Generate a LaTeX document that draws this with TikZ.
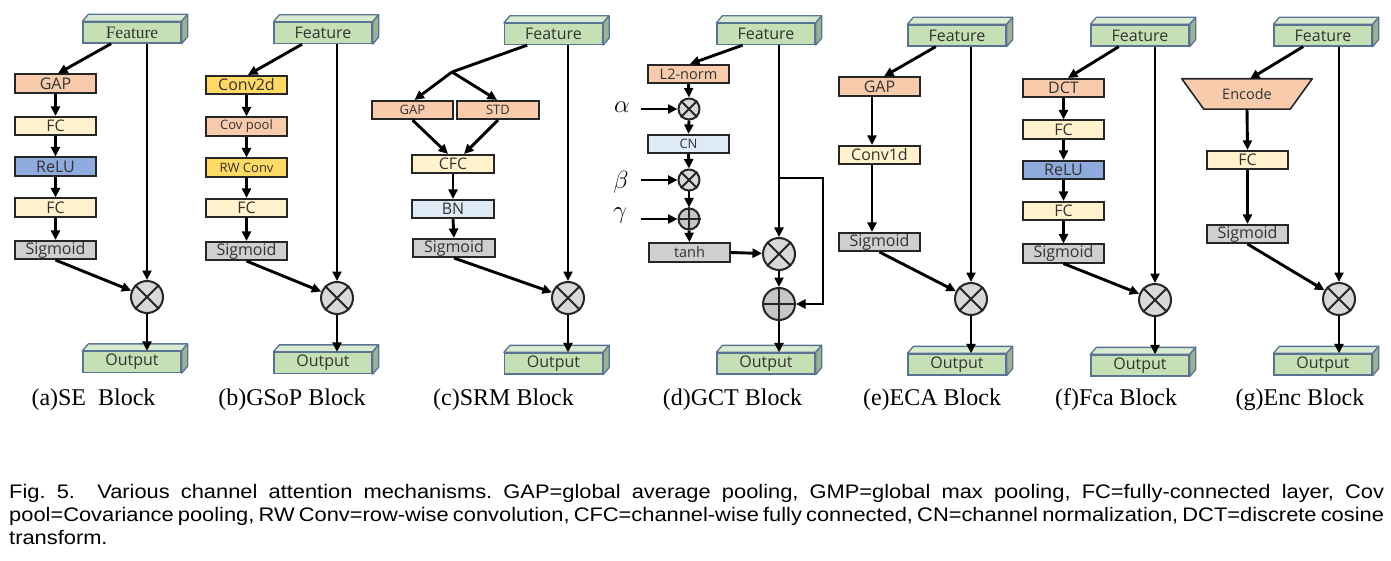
\documentclass[tikz,border=0pt]{standalone}
\usepackage{fontspec}
\setmainfont{Open Sans}
\newfontfamily\ttlfont{Liberation Serif}
\newfontfamily\capfont[FakeStretch=1.115]{Liberation Sans}
\usetikzlibrary{arrows.meta,calc}

\definecolor{fgreen}{HTML}{C5E0B4}
\definecolor{fgreentop}{HTML}{D8EACF}
\definecolor{fgreenside}{HTML}{9AB396}
\definecolor{cubeedge}{HTML}{5B7393}
\definecolor{salmon}{HTML}{F8CBAD}
\definecolor{lyellow}{HTML}{FFF2CC}
\definecolor{gold}{HTML}{FFD966}
\definecolor{relublue}{HTML}{8FAADC}
\definecolor{lblue}{HTML}{DEEBF7}
\definecolor{lgray}{HTML}{D0CECE}
\definecolor{opgray}{HTML}{D9D9D9}
\definecolor{opgraytwo}{HTML}{C6C6C6}
\definecolor{boxedge}{HTML}{262626}
\definecolor{txtgray}{HTML}{333333}

\tikzset{
  blk/.style={draw=boxedge, line width=1.6pt, minimum width=81pt, minimum height=18.5pt,
    inner sep=0pt, font=\fontsize{16}{17}\selectfont, text=txtgray},
  smalltxt/.style={font=\fontsize{13}{14}\selectfont},
  midtxt/.style={font=\fontsize{14.5}{15}\selectfont},
  cubefront/.style={draw=cubeedge, line width=1.3pt, fill=fgreen, minimum width=98pt,
    minimum height=21pt, inner sep=0pt, font=\fontsize{16}{17}\selectfont, text=txtgray},
  opnode/.style={circle, draw=boxedge, line width=2pt, fill=opgray, minimum size=32pt, inner sep=0pt},
  opplus/.style={opnode, fill=opgraytwo},
  opline/.style={line width=2pt, draw=boxedge},
  arr/.style={-{Triangle[length=9.5pt,width=9pt]}, line width=2.9pt},
  ln/.style={line width=2.9pt},
  ttl/.style={anchor=base, inner sep=0pt, font=\ttlfont\fontsize{24}{26}\selectfont},
  greek/.style={inner sep=0pt, font=\fontsize{27}{28}\selectfont},
  capline/.style={anchor=base west, inner sep=0pt, font=\capfont\fontsize{19.6}{22}\selectfont},
}

\newcommand\mycube[4]{%
  \node[cubefront] (#1) at (#2,#3) {#4};
  \filldraw[fill=fgreentop, draw=cubeedge, line width=1.3pt, line join=round]
    (#1.north west) -- ++(6,-7) -- ($(#1.north east)+(6,-7)$) -- (#1.north east) -- cycle;
  \filldraw[fill=fgreenside, draw=cubeedge, line width=1.3pt, line join=round]
    (#1.north east) -- ++(6,-7) -- ($(#1.south east)+(6,-7)$) -- (#1.south east) -- cycle;
}
\newcommand\optimes[4]{%
  \node[opnode, minimum size=#4] (#1) at (#2,#3) {};
  \draw[opline] (#1.45) -- (#1.225) (#1.135) -- (#1.315);
}
\newcommand\opplusnode[4]{%
  \node[opplus, minimum size=#4] (#1) at (#2,#3) {};
  \draw[opline] (#1.north) -- (#1.south) (#1.east) -- (#1.west);
}

\begin{document}
\begin{tikzpicture}[x=1pt, y=-1pt]
\useasboundingbox (0,0) rectangle (1391,561);
\fill[white] (0,0) rectangle (1391,561);

% ---------------- (a) SE ----------------
\mycube{fa}{132}{32.5}{{\ttlfont\fontsize{17.5}{18}\selectfont Feature}}
\node[blk, fill=salmon] (a1) at (55.5,83.5) {GAP};
\node[blk, fill=lyellow] (a2) at (55.5,126) {FC};
\node[blk, fill=relublue] (a3) at (55.5,166.5) {ReLU};
\node[blk, fill=lyellow] (a4) at (55.5,207.5) {FC};
\node[blk, fill=lgray] (a5) at (55.5,250) {Sigmoid};
\optimes{ma}{147}{297}{32pt}
\mycube{oa}{132}{362}{Output}
\draw[arr] ($(fa.south west)!0.29!(fa.south east)$) -- ([xshift=2.5pt]a1.north);
\draw[arr] (a1.south) -- (a2.north);
\draw[arr] (a2.south) -- (a3.north);
\draw[arr] (a3.south) -- (a4.north);
\draw[arr] (a4.south) -- (a5.north);
\draw[arr] (a5.south) -- (ma);
\draw[arr] (ma |- fa.south) -- (ma.north);
\draw[arr] (ma.south) -- (ma |- oa.north);
\node[ttl] (ta) at (93.5,405) {(a)SE\ \ Block};

% ---------------- (b) GSoP ----------------
\mycube{fb}{323}{33}{Feature}
\node[blk, fill=gold] (b1) at (246.5,85) {Conv2d};
\node[blk, fill=salmon, smalltxt] (b2) at (246.5,126.5) {Cov pool};
\node[blk, fill=gold, smalltxt] (b3) at (246.5,167.5) {RW Conv};
\node[blk, fill=lyellow] (b4) at (246.5,208) {FC};
\node[blk, fill=lgray] (b5) at (246.5,251) {Sigmoid};
\optimes{mb}{337}{298}{32pt}
\mycube{ob}{323}{363}{Output}
\draw[arr] ($(fb.south west)!0.29!(fb.south east)$) -- ([xshift=1.5pt]b1.north);
\draw[arr] (b1.south) -- (b2.north);
\draw[arr] (b2.south) -- (b3.north);
\draw[arr] (b3.south) -- (b4.north);
\draw[arr] (b4.south) -- (b5.north);
\draw[arr] (b5.south) -- (mb);
\draw[arr] (mb |- fb.south) -- (mb.north);
\draw[arr] (mb.south) -- (mb |- ob.north);
\node[ttl] (tb) at (292,405) {(b)GSoP Block};

% ---------------- (c) SRM ----------------
\mycube{fc}{553.5}{34}{Feature}
\coordinate (jc) at (452,72);
\node[blk, fill=salmon, smalltxt] (c1) at (412.5,110) {GAP};
\node[blk, fill=salmon, smalltxt, minimum width=82pt] (c2) at (498,110) {STD};
\node[blk, fill=lyellow, minimum width=82pt] (c3) at (453,164) {CFC};
\node[blk, fill=lblue, minimum width=82pt] (c4) at (453,209) {BN};
\node[blk, fill=lgray, minimum width=82pt] (c5) at (454,248) {Sigmoid};
\optimes{mc}{568}{298}{32pt}
\mycube{oc}{553.5}{363.5}{Output}
\draw[ln] ($(fc.south west)!0.235!(fc.south east)$) -- (jc);
\draw[arr] (jc) -- ([xshift=2pt]c1.north);
\draw[arr] (jc) -- ([xshift=-1pt]c2.north);
\draw[arr] (c1.south) -- ([xshift=-5pt]c3.north);
\draw[arr] (c2.south) -- ([xshift=11pt]c3.north);
\draw[arr] (c3.south) -- (c4.north);
\draw[arr] (c4.south) -- (c5.north);
\draw[arr] (c5.south) -- (mc);
\draw[arr] (mc |- fc.south) -- (mc.north);
\draw[arr] (mc.south) -- (mc |- oc.north);
\node[ttl] (tc) at (503.5,405) {(c)SRM Block};

% ---------------- (d) GCT ----------------
\mycube{fd}{766}{34}{Feature}
\node[blk, fill=salmon, midtxt] (d1) at (688.5,74) {L2-norm};
\optimes{dA}{689}{109}{21pt}
\node[blk, fill=lblue, smalltxt] (d2) at (688.5,144) {CN};
\optimes{dB}{689}{180}{21pt}
\opplusnode{dG}{689}{219}{21pt}
\node[blk, fill=lgray, midtxt, minimum height=19pt] (d3) at (689.5,252.5) {tanh};
\optimes{dM}{779}{254}{32pt}
\opplusnode{dP}{779}{304}{32pt}
\mycube{od}{766}{363.5}{Output}
\node[greek] (al) at (622,107) {$\alpha$};
\node[greek] (be) at (621,182) {$\beta$};
\node[greek] (ga) at (620,216) {$\gamma$};
\coordinate (aS) at (641,109);
\coordinate (bS) at (641,180);
\coordinate (gS) at (641,219);
\draw[arr] ($(fd.south west)!0.265!(fd.south east)$) -- ([xshift=1.5pt]d1.north);
\draw[arr] (d1.south) -- (dA.north);
\draw[arr] (dA.south) -- (d2.north);
\draw[arr] (d2.south) -- (dB.north);
\draw[arr] (dB.south) -- (dG.north);
\draw[arr] (dG.south) -- (d3.north);
\draw[arr] (aS) -- (dA.west);
\draw[arr] (bS) -- (dB.west);
\draw[arr] (gS) -- (dG.west);
\draw[arr] (d3.east) -- (dM);
\draw[arr] (dM |- fd.south) -- (dM.north);
\coordinate (br) at (779,178);
\draw[arr] (br) -- ++(44,0) |- (dP.east);
\draw[arr] (dM.south) -- (dP.north);
\draw[arr] (dP.south) -- (dP |- od.north);
\node[ttl] (td) at (732.5,405) {(d)GCT Block};

% ---------------- (e) ECA ----------------
\mycube{fe}{957}{35.5}{Feature}
\node[blk, fill=salmon] (e1) at (879.5,86.5) {GAP};
\node[blk, fill=lyellow] (e2) at (879.5,155) {Conv1d};
\node[blk, fill=lgray] (e3) at (879.5,242) {Sigmoid};
\optimes{me}{971}{299}{32pt}
\mycube{oe}{957}{364.5}{Output}
\draw[arr] ($(fe.south west)!0.286!(fe.south east)$) -- ([xshift=4.5pt]e1.north);
\draw[arr] ([xshift=-7.5pt]e1.south) -- ([xshift=-7.5pt]e2.north);
\draw[arr] ([xshift=-7.5pt]e2.south) -- ([xshift=-7.5pt]e3.north);
\draw[arr] (e3.south) -- (me);
\draw[arr] (me |- fe.south) -- (me.north);
\draw[arr] (me.south) -- (me |- oe.north);
\node[ttl] (te) at (932,405) {(e)ECA Block};

% ---------------- (f) Fca ----------------
\mycube{ff}{1140}{35.5}{Feature}
\node[blk, fill=salmon] (f1) at (1063.5,88) {DCT};
\node[blk, fill=lyellow] (f2) at (1063.5,129.5) {FC};
\node[blk, fill=relublue] (f3) at (1063.5,170) {ReLU};
\node[blk, fill=lyellow] (f4) at (1063.5,211) {FC};
\node[blk, fill=lgray] (f5) at (1063.5,253.5) {Sigmoid};
\optimes{mf}{1155}{300}{32pt}
\mycube{of}{1140}{365.5}{Output}
\draw[arr] ($(ff.south west)!0.286!(ff.south east)$) -- ([xshift=4.5pt]f1.north);
\draw[arr] (f1.south) -- (f2.north);
\draw[arr] (f2.south) -- (f3.north);
\draw[arr] (f3.south) -- (f4.north);
\draw[arr] (f4.south) -- (f5.north);
\draw[arr] (f5.south) -- (mf);
\draw[arr] (mf |- ff.south) -- (mf.north);
\draw[arr] (mf.south) -- (mf |- of.north);
\node[ttl] (tf) at (1116,405) {(f)Fca Block};

% ---------------- (g) Enc ----------------
\mycube{fg}{1323}{35.5}{Feature}
\node[inner sep=0pt, minimum width=86pt, minimum height=30pt] (enc) at (1247,94) {};
\filldraw[fill=salmon, draw=boxedge, line width=1.6pt, line join=round]
  ([xshift=-22pt]enc.north west) -- ([xshift=22pt]enc.north east) -- (enc.south east) -- (enc.south west) -- cycle;
\node[midtxt, text=txtgray, inner sep=0pt] (enct) at (enc.center) {Encode};
\node[blk, fill=lyellow] (g1) at (1247.5,160) {FC};
\node[blk, fill=lgray] (g2) at (1247.5,234) {Sigmoid};
\optimes{mg}{1339}{299}{32pt}
\mycube{og}{1323}{364.5}{Output}
\draw[arr] ($(fg.south west)!0.3!(fg.south east)$) -- ([xshift=3pt]enc.north);
\draw[arr] (enc.south) -- (g1.north);
\draw[arr] (g1.south) -- (g2.north);
\draw[arr] (g2.south) -- (mg);
\draw[arr] (mg |- fg.south) -- (mg.north);
\draw[arr] (mg.south) -- (mg |- og.north);
\node[ttl] (tg) at (1300,405) {(g)Enc Block};

% ---------------- caption ----------------
\node[capline] (cap1) at (9,498) {\frenchspacing\makebox[1375pt][s]{Fig. 5.\ \ Various channel attention mechanisms. GAP=global average pooling, GMP=global max pooling, FC=fully-connected layer, Cov}};
\node[capline] (cap2) at (9,521.5) {\frenchspacing\makebox[1375pt][s]{pool=Covariance pooling, RW Conv=row-wise convolution, CFC=channel-wise fully connected, CN=channel normalization, DCT=discrete cosine}};
\node[capline] (cap3) at (9,544) {transform.};
\end{tikzpicture}
\end{document}
